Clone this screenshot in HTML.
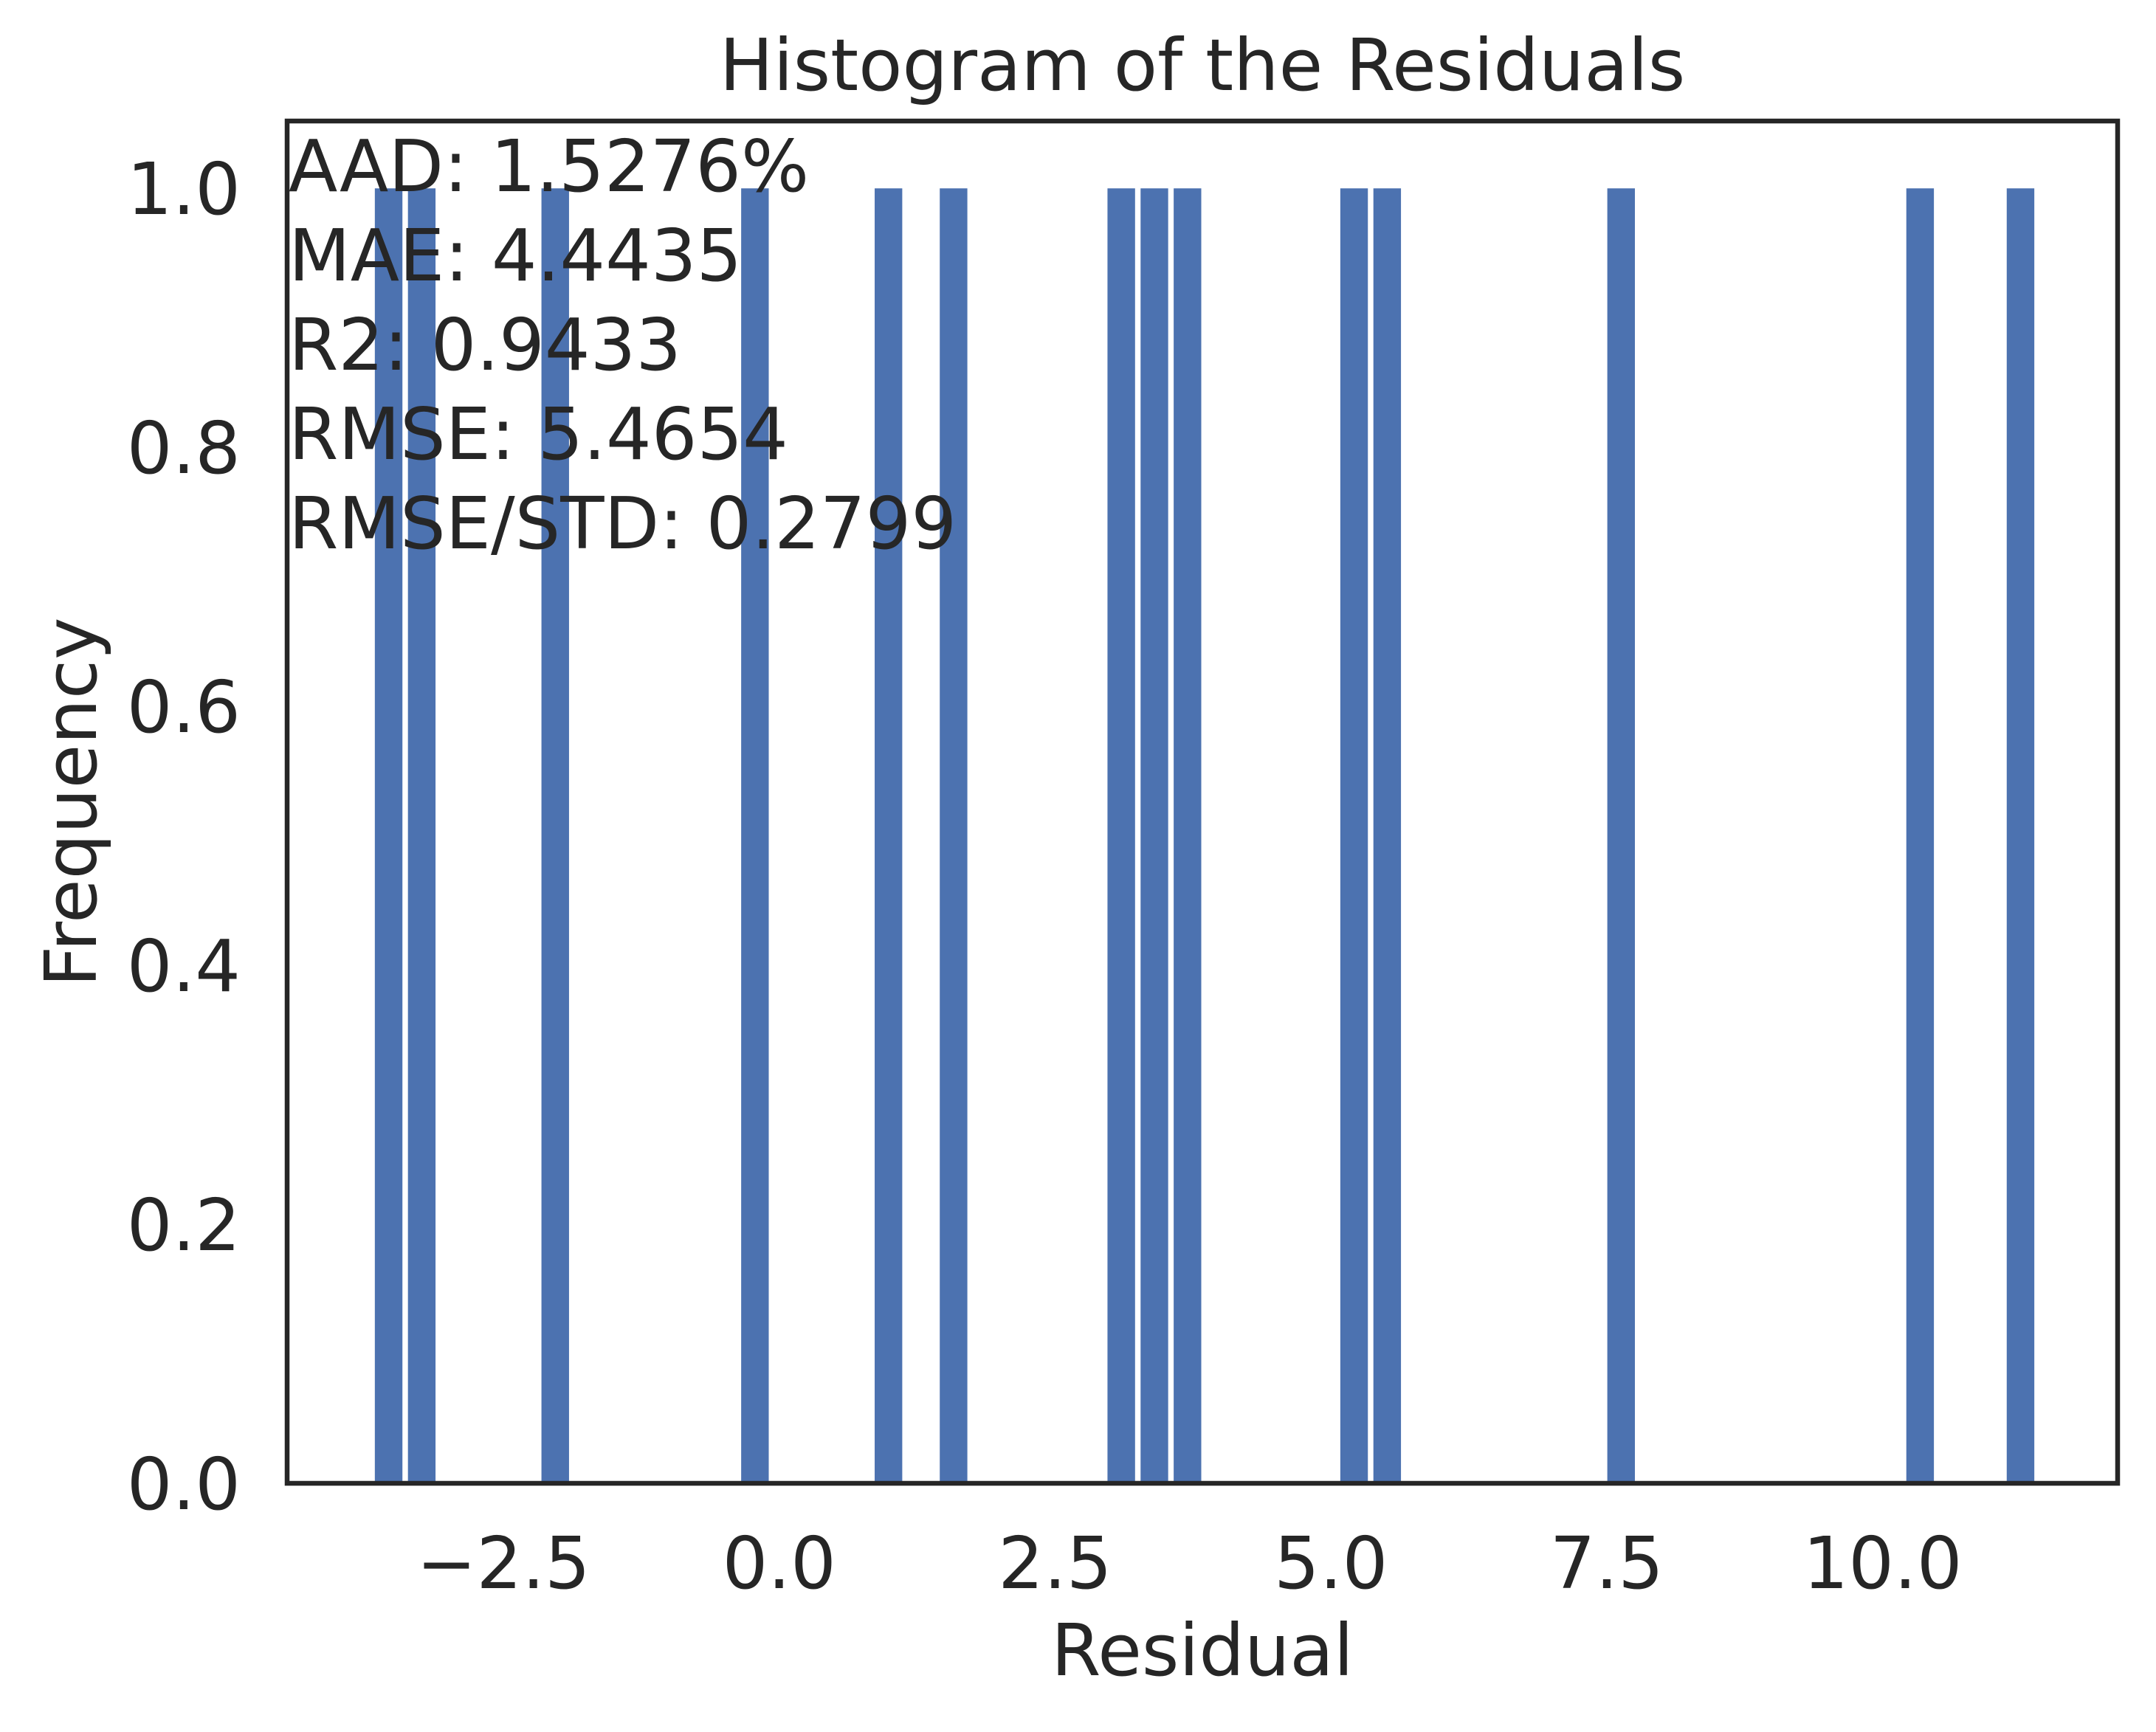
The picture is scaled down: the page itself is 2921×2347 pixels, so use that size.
<!DOCTYPE html>
<html><head><meta charset="utf-8"><style>
body{margin:0;background:#fff}
text{font-family:"DejaVu Sans","Liberation Sans",sans-serif;fill:#262626}
</style></head><body>
<svg id="chart" width="2921" height="2342" viewBox="0 0 2921 2342" xmlns="http://www.w3.org/2000/svg">
<rect width="2921" height="2342" fill="#fff"/>
<g id="bars"></g>
<g id="axes"></g>
</svg>
<script>
const binCenters = [-3.54,-3.24,-2.03,-0.22,0.99,1.58,3.10,3.40,3.70,5.21,5.51,7.63,10.34,11.25];
const frequencies = [1,1,1,1,1,1,1,1,1,1,1,1,1,1];
const binWidth = 0.25;
const xTicks = [-2.5,0.0,2.5,5.0,7.5,10.0];
const yTicks = [0.0,0.2,0.4,0.6,0.8,1.0];
const stats = ["AAD: 1.5276%","MAE: 4.4435","R2: 0.9433","RMSE: 5.4654","RMSE/STD: 0.2799"];

const L=389,R=2869,T=164,B=2010;
const xMin=-4.46,xMax=12.13,yMin=0,yMax=1.052;
const sx=v=>L+(v-xMin)/(xMax-xMin)*(R-L);
const sy=v=>B-(v-yMin)/(yMax-yMin)*(B-T);
const NS="http://www.w3.org/2000/svg";
function mk(tag,attrs,parent,txt){const e=document.createElementNS(NS,tag);for(const k in attrs)e.setAttribute(k,attrs[k]);if(txt!==undefined)e.textContent=txt;parent.appendChild(e);return e;}
const bars=document.getElementById('bars'),axes=document.getElementById('axes');
binCenters.forEach((c,i)=>{
  const x0=sx(c-binWidth/2),x1=sx(c+binWidth/2);
  const r=mk('rect',{x:x0,y:sy(frequencies[i]),width:x1-x0,height:sy(0)-sy(frequencies[i]),fill:'#4c72b0'},bars);
  
  
});
const frame=mk('rect',{x:L,y:T,width:R-L,height:B-T,fill:'none',stroke:'#262626','stroke-width':6.5},axes);


xTicks.forEach(v=>{
  const t=mk('text',{x:sx(v),y:2152,'font-size':97,'text-anchor':'middle'},axes,(v<0?'\u2212':'')+Math.abs(v).toFixed(1));
  
  
});
yTicks.forEach(v=>{
  const t=mk('text',{x:326,y:sy(v)+35,'font-size':97,'text-anchor':'end'},axes,v.toFixed(1));
  
  
});
stats.forEach((s,i)=>{
  const t=mk('text',{x:391,y:259+i*121,'font-size':97},axes,s);
  
  
});
const title=mk('text',{x:(L+R)/2,y:122,'font-size':97,'text-anchor':'middle'},axes,'Histogram of the Residuals');


const xl=mk('text',{x:(L+R)/2,y:2270,'font-size':97,'text-anchor':'middle'},axes,'Residual');


const yl=mk('text',{x:0,y:0,'font-size':97,'text-anchor':'middle',transform:'translate(130,'+((T+B)/2)+') rotate(-90)'},axes,'Frequency');


</script>
</body></html>
